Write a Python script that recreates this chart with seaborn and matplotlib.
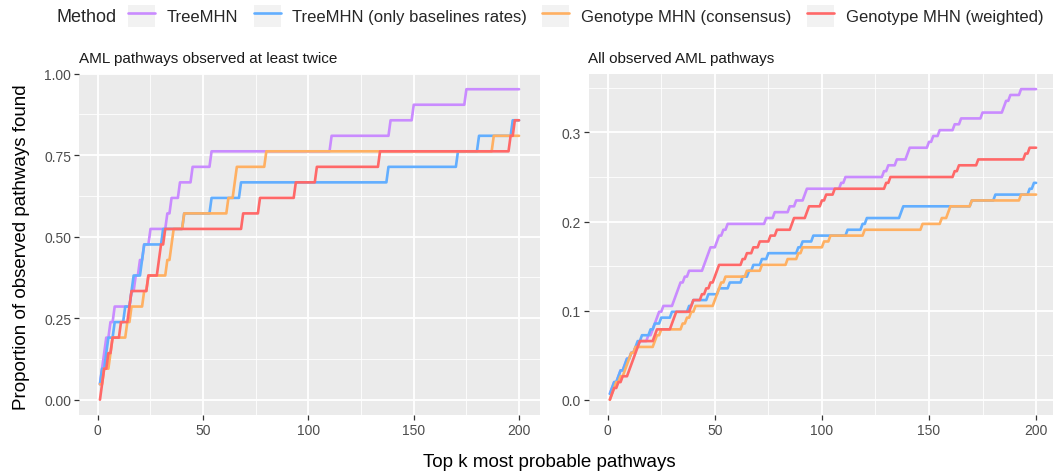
import numpy as np
import pandas as pd
import matplotlib
matplotlib.use("Agg")
import matplotlib.pyplot as plt
from matplotlib.patches import Rectangle
from matplotlib.lines import Line2D
from matplotlib.legend_handler import HandlerTuple
from matplotlib.ticker import FixedLocator
import seaborn as sns

# Methods and their colours
methods = ["TreeMHN", "TreeMHN (only baselines rates)",
           "Genotype MHN (consensus)", "Genotype MHN (weighted)"]
method_colors = ["#C98BFF", "#62AEFF", "#FFB062", "#FF6868"]

k_max = 200
n_twice = 21    # AML pathways observed at least twice
n_all = 152     # all observed AML pathways

# Rank k at which each observed pathway first shows up among the top-k pathways
twice_treemhn = [1, 2, 3, 4, 6, 8, 16, 18, 20, 22, 25, 33, 35, 39, 45, 54, 111, 139, 150, 175]
twice_treemhn_base = [1, 2, 4, 5, 8, 13, 16, 17, 21, 22, 31, 41, 54, 68, 138, 171, 181, 197]
twice_geno_cons = [1, 3, 6, 7, 14, 16, 22, 24, 33, 35, 36, 41, 62, 65, 66, 80, 188]
twice_geno_weighted = [2, 3, 5, 7, 11, 15, 16, 24, 29, 30, 32, 69, 77, 94, 104, 134, 196, 198]

all_treemhn = [1, 2, 3, 5, 6, 8, 9, 11, 13, 15, 19, 21, 22, 23, 24, 26, 31, 32, 33, 34,
               36, 38, 45, 46, 47, 48, 51, 52, 54, 56, 74, 78, 85, 88, 92, 93, 109, 111,
               129, 131, 135, 140, 141, 150, 152, 155, 162, 165, 175, 185, 186, 188, 193]
all_treemhn_base = [1, 2, 3, 5, 6, 8, 9, 11, 13, 14, 16, 20, 22, 25, 30, 38, 40, 47, 52,
                    57, 63, 66, 68, 72, 75, 89, 91, 96, 112, 119, 121, 137, 138, 170, 181,
                    197, 199]
all_geno_cons = [2, 3, 4, 6, 8, 9, 10, 11, 13, 22, 23, 25, 35, 37, 39, 41, 50, 51, 52, 53,
                 55, 65, 72, 84, 89, 91, 101, 104, 120, 147, 156, 159, 160, 170, 193]
all_geno_weighted = [2, 3, 5, 7, 10, 11, 12, 13, 14, 15, 22, 23, 30, 31, 32, 39, 40, 44, 46,
                     48, 50, 51, 52, 63, 65, 68, 71, 76, 79, 86, 87, 93, 94, 100, 102, 106,
                     130, 132, 162, 164, 173, 195, 197]

twice_hits = [twice_treemhn, twice_treemhn_base, twice_geno_cons, twice_geno_weighted]
all_hits = [all_treemhn, all_treemhn_base, all_geno_cons, all_geno_weighted]


def coverage_frame(hit_lists, total):
    ks = np.arange(1, k_max + 1)
    rows = []
    for name, hits in zip(methods, hit_lists):
        found = np.searchsorted(np.sort(hits), ks, side="right")
        rows.append(pd.DataFrame({"k": ks, "prop": found / total, "Method": name}))
    return pd.concat(rows, ignore_index=True)


df_twice = coverage_frame(twice_hits, n_twice)
df_all = coverage_frame(all_hits, n_all)

sns.set_theme(style="darkgrid", rc={
    "axes.facecolor": "#EBEBEB",
    "grid.color": "white",
    "axes.edgecolor": "none",
})
plt.rcParams["font.family"] = ["Liberation Sans", "DejaVu Sans"]

W, H = 1053, 477
fig = plt.figure(figsize=(W / 100, H / 100), dpi=100)
fig.patch.set_facecolor("white")

bottom = 1 - 416.2 / H
height = (416.2 - 74.7) / H
ax1 = fig.add_axes([79 / W, bottom, 461 / W, height])
ax2 = fig.add_axes([588.5 / W, bottom, (W - 588.5) / W, height])

palette = dict(zip(methods, method_colors))
for ax, df in ((ax1, df_twice), (ax2, df_all)):
    sns.lineplot(data=df, x="k", y="prop", hue="Method", hue_order=methods,
                 palette=palette, ax=ax, legend=False, linewidth=1.9,
                 estimator=None, sort=True)

ax1.set_xlim(-8.95, 209.95)
ax1.set_ylim(-0.0476, 1.0)
ax2.set_xlim(-8.97, 207.9)
ax2.set_ylim(-0.01743, 0.366)

ax1.yaxis.set_major_locator(FixedLocator([0, 0.25, 0.5, 0.75, 1.0]))
ax1.set_yticklabels(["0.00", "0.25", "0.50", "0.75", "1.00"])
ax1.yaxis.set_minor_locator(FixedLocator([0.125, 0.375, 0.625, 0.875]))
ax2.yaxis.set_major_locator(FixedLocator([0, 0.1, 0.2, 0.3]))
ax2.set_yticklabels(["0.0", "0.1", "0.2", "0.3"])
ax2.yaxis.set_minor_locator(FixedLocator([0.05, 0.15, 0.25, 0.35]))

for ax in (ax1, ax2):
    ax.xaxis.set_major_locator(FixedLocator([0, 50, 100, 150, 200]))
    ax.xaxis.set_minor_locator(FixedLocator([25, 75, 125, 175]))
    ax.grid(which="major", color="white", linewidth=1.3)
    ax.grid(which="minor", color="white", linewidth=0.6)
    ax.tick_params(which="major", direction="out", length=3.5, width=0.9,
                   color="#333333", labelcolor="#4D4D4D", labelsize=10, pad=2,
                   bottom=True, left=True)
    ax.tick_params(which="minor", length=0)
    ax.set_xlabel("")
    ax.set_ylabel("")
    for s in ax.spines.values():
        s.set_visible(False)

ax1.text(0.0, 1.025, "AML pathways observed at least twice", transform=ax1.transAxes,
         ha="left", va="bottom", fontsize=11, color="#1A1A1A")
ax2.text(0.0, 1.025, "All observed AML pathways", transform=ax2.transAxes,
         ha="left", va="bottom", fontsize=11, color="#1A1A1A")

fig.text(549 / W, 1 - 463 / H, "Top k most probable pathways", ha="center", va="center",
         fontsize=13.5, color="black")
fig.text(22 / W, 1 - 247 / H, "Proportion of observed pathways found", ha="center",
         va="center", rotation=90, fontsize=13.5, color="black")

# Legend across the top
fig.text(57 / W, 1 - 17 / H, "Method", ha="left", va="center", fontsize=13)
handles = [(Rectangle((0, 0), 1, 1, facecolor="#F2F2F2", edgecolor="none"),
            Line2D([], [], color=c, linewidth=1.9)) for c in method_colors]
fig.legend(handles, methods, handler_map={tuple: HandlerTuple(ndivide=1)},
           loc="center left", bbox_to_anchor=(128 / W, 1 - 17 / H), ncol=4,
           frameon=False, fontsize=12, handlelength=1.62, handleheight=1.68,
           handletextpad=0.72, columnspacing=0.9, borderaxespad=0, borderpad=0)

fig.savefig("out.png", dpi=100)
